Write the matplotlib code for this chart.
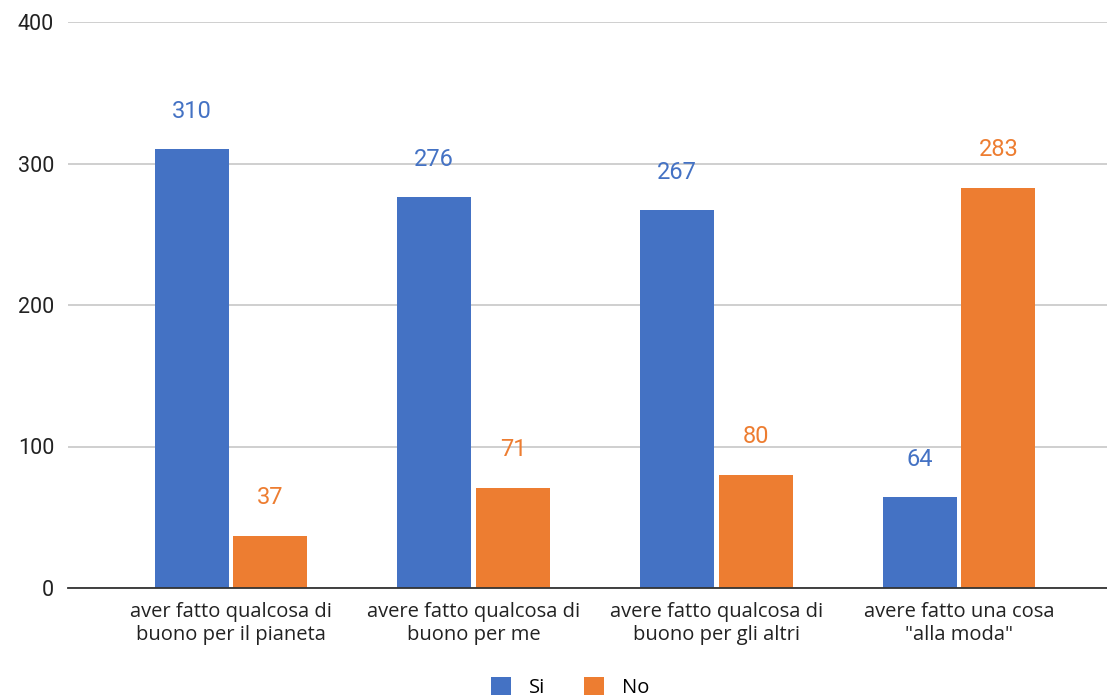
import numpy as np
import matplotlib.pyplot as plt

categories = ['aver fatto qualcosa di\nbuono per il pianeta',
              'avere fatto qualcosa di\nbuono per me',
              'avere fatto qualcosa di\nbuono per gli altri',
              'avere fatto una cosa\n"alla moda"']
si = [310, 276, 267, 64]
no = [37, 71, 80, 283]
yticks = [0, 100, 200, 300, 400]

blue = '#4472C4'
orange = '#ED7D31'

fig = plt.figure(figsize=(11.07, 6.99), dpi=100)
ax = fig.add_axes([68 / 1107, 1 - 588 / 699, 1 - 68 / 1107, (588 - 22) / 699])

x = np.arange(len(categories))
w = 0.305
gap = 0.01
b1 = ax.bar(x - w / 2 - gap, si, w, color=blue, label='Si', zorder=3)
b2 = ax.bar(x + w / 2 + gap, no, w, color=orange, label='No', zorder=3)

# value labels above bars
for bars, vals, col in [(b1, si, blue), (b2, no, orange)]:
    for r, v in zip(bars, vals):
        ax.annotate(str(v), (r.get_x() + r.get_width() / 2, v),
                    xytext=(0, 27.5), textcoords='offset points',
                    ha='center', va='center', color=col,
                    fontsize=17, family='Roboto')

ax.set_xlim(-0.672, 3.61)
ax.set_ylim(0, 400)
ax.set_yticks(yticks)
ax.set_yticklabels([str(t) for t in yticks], family='Roboto', fontsize=15.5,
                   color='#222222')
ax.set_xticks(x)
ax.set_xticklabels(categories, family='Open Sans', fontsize=14.5,
                   color='#222222', linespacing=1.2)
ax.tick_params(axis='both', length=0)
ax.tick_params(axis='y', pad=10)
ax.tick_params(axis='x', pad=10)

ax.grid(axis='y', color='#cccccc', linewidth=1.3, zorder=0)
for s in ['top', 'right', 'left']:
    ax.spines[s].set_visible(False)
ax.spines['bottom'].set_color('#333333')
ax.spines['bottom'].set_linewidth(1.3)
ax.spines['bottom'].set_zorder(4)

fig.legend(loc='lower center', bbox_to_anchor=(0.515, -0.025), ncol=2,
           frameon=False, prop={'family': 'Open Sans', 'size': 14.5},
           handlelength=1.0, handleheight=1.0, columnspacing=1.9,
           handletextpad=0.9)

fig.savefig('out.png', dpi=100, facecolor='white')
